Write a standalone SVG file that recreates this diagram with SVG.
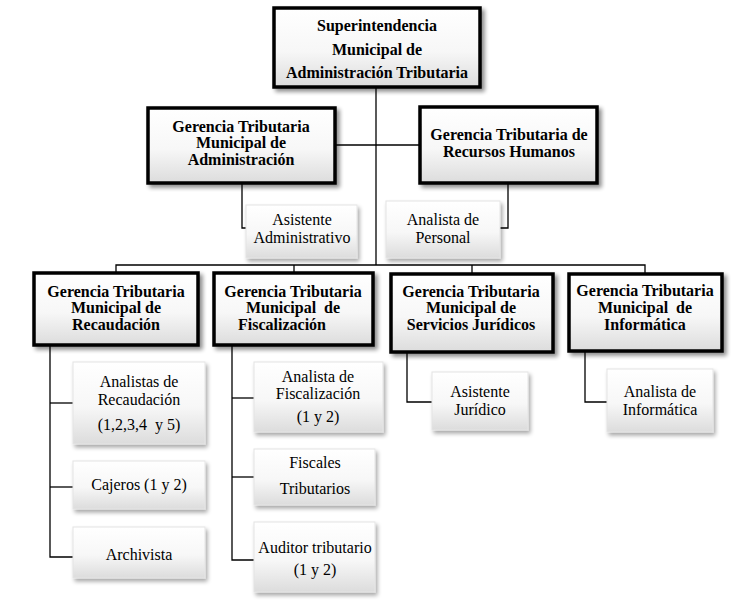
<svg xmlns="http://www.w3.org/2000/svg" width="754" height="609" viewBox="0 0 754 609">
<defs>
<linearGradient id="g" x1="0" y1="0" x2="0" y2="1">
<stop offset="0" stop-color="#ffffff"/>
<stop offset="0.55" stop-color="#f7f7f7"/>
<stop offset="1" stop-color="#dcdcdc"/>
</linearGradient>
<filter id="sh" x="-10%" y="-10%" width="130%" height="130%">
<feGaussianBlur in="SourceAlpha" stdDeviation="2"/>
<feOffset dx="3" dy="3" result="b"/>
<feComponentTransfer><feFuncA type="linear" slope="0.45"/></feComponentTransfer>
<feMerge><feMergeNode/><feMergeNode in="SourceGraphic"/></feMerge>
</filter>
<filter id="sh2" x="-10%" y="-10%" width="130%" height="130%">
<feGaussianBlur in="SourceAlpha" stdDeviation="2"/>
<feOffset dx="2" dy="3" result="b"/>
<feComponentTransfer><feFuncA type="linear" slope="0.35"/></feComponentTransfer>
<feMerge><feMergeNode/><feMergeNode in="SourceGraphic"/></feMerge>
</filter>
</defs>
<style>
.main{fill:url(#g);stroke:#000;stroke-width:3.5;filter:url(#sh)}
.sub{fill:url(#g);stroke:#e4e4e4;stroke-width:1;filter:url(#sh2)}
text{font-family:'Liberation Serif','Times New Roman',serif;fill:#000;text-anchor:middle}
.tb{font-weight:bold;font-size:16px}
.tt{font-weight:bold;font-size:16px}
.tn{font-size:16px}
.c{fill:none;stroke:#000;stroke-width:1.3}
</style>
<rect width="754" height="609" fill="#fff"/>
<g id="connectors">
<path class="c" d="M376 88 V265"/>
<path class="c" d="M335 145 H420"/>
<path class="c" d="M116 272 V265 H645 V273"/>
<path class="c" d="M294 265 V272"/>
<path class="c" d="M472 265 V273"/>
<path class="c" d="M242 183 V228 H246"/>
<path class="c" d="M508 183 V228 H500"/>
<path class="c" d="M50 346 V557 H73"/>
<path class="c" d="M50 403 H73"/>
<path class="c" d="M50 487 H73"/>
<path class="c" d="M232 346 V560 H254"/>
<path class="c" d="M232 398 H254"/>
<path class="c" d="M232 477 H254"/>
<path class="c" d="M407 353 V402 H432"/>
<path class="c" d="M585 352 V402 H607"/>
</g>
<g id="superintendencia">
<rect class="main" x="274" y="8" width="206" height="79"/>
<text class="tt" x="377" y="31">Superintendencia</text>
<text class="tt" x="377" y="55">Municipal de</text>
<text class="tt" x="377" y="78">Administración Tributaria</text>
</g>
<g id="g-administracion">
<rect class="main" x="148" y="108" width="187" height="75"/>
<text class="tb" x="241" y="132">Gerencia Tributaria</text>
<text class="tb" x="241" y="148">Municipal de</text>
<text class="tb" x="241" y="165">Administración</text>
</g>
<g id="g-rrhh">
<rect class="main" x="420" y="107" width="177" height="76"/>
<text class="tb" x="509" y="140">Gerencia Tributaria de</text>
<text class="tb" x="509" y="157">Recursos Humanos</text>
</g>
<g id="asistente-admin">
<rect class="sub" x="246" y="205" width="111" height="53"/>
<text class="tn" x="302" y="225">Asistente</text>
<text class="tn" x="302" y="243">Administrativo</text>
</g>
<g id="analista-personal">
<rect class="sub" x="386" y="201" width="114" height="57"/>
<text class="tn" x="443" y="225">Analista de</text>
<text class="tn" x="443" y="243">Personal</text>
</g>
<g id="g-recaudacion">
<rect class="main" x="34" y="273" width="164" height="72"/>
<text class="tb" x="116" y="297">Gerencia Tributaria</text>
<text class="tb" x="116" y="313">Municipal de</text>
<text class="tb" x="116" y="330">Recaudación</text>
</g>
<g id="g-fiscalizacion">
<rect class="main" x="214" y="273" width="159" height="72"/>
<text class="tb" x="293" y="297">Gerencia Tributaria</text>
<text class="tb" x="293" y="313" xml:space="preserve">Municipal  de</text>
<text class="tb" x="282" y="330">Fiscalización</text>
</g>
<g id="g-juridicos">
<rect class="main" x="391" y="274" width="162" height="78"/>
<text class="tb" x="471" y="297">Gerencia Tributaria</text>
<text class="tb" x="471" y="313">Municipal de</text>
<text class="tb" x="471" y="330">Servicios Jurídicos</text>
</g>
<g id="g-informatica">
<rect class="main" x="569" y="274" width="153" height="77"/>
<text class="tb" x="645" y="296">Gerencia Tributaria</text>
<text class="tb" x="645" y="313" xml:space="preserve">Municipal  de</text>
<text class="tb" x="645" y="330">Informática</text>
</g>
<g id="analistas-recaudacion">
<rect class="sub" x="73" y="362" width="132" height="82"/>
<text class="tn" x="139" y="387">Analistas de</text>
<text class="tn" x="139" y="405">Recaudación</text>
<text class="tn" x="139" y="430" xml:space="preserve">(1,2,3,4  y 5)</text>
</g>
<g id="cajeros">
<rect class="sub" x="73" y="461" width="132" height="48"/>
<text class="tn" x="139" y="490">Cajeros (1 y 2)</text>
</g>
<g id="archivista">
<rect class="sub" x="73" y="527" width="132" height="51"/>
<text class="tn" x="139" y="560">Archivista</text>
</g>
<g id="analista-fiscalizacion">
<rect class="sub" x="254" y="362" width="129" height="70"/>
<text class="tn" x="318" y="382">Analista de</text>
<text class="tn" x="318" y="399">Fiscalización</text>
<text class="tn" x="318" y="422">(1 y 2)</text>
</g>
<g id="fiscales">
<rect class="sub" x="254" y="449" width="121" height="56"/>
<text class="tn" x="315" y="468">Fiscales</text>
<text class="tn" x="315" y="494">Tributarios</text>
</g>
<g id="auditor">
<rect class="sub" x="254" y="522" width="121" height="70"/>
<text class="tn" x="315" y="553">Auditor tributario</text>
<text class="tn" x="315" y="575">(1 y 2)</text>
</g>
<g id="asistente-juridico">
<rect class="sub" x="432" y="372" width="96" height="58"/>
<text class="tn" x="480" y="397">Asistente</text>
<text class="tn" x="480" y="415">Jurídico</text>
</g>
<g id="analista-informatica">
<rect class="sub" x="607" y="369" width="106" height="63"/>
<text class="tn" x="660" y="397">Analista de</text>
<text class="tn" x="660" y="415">Informática</text>
</g>
</svg>
